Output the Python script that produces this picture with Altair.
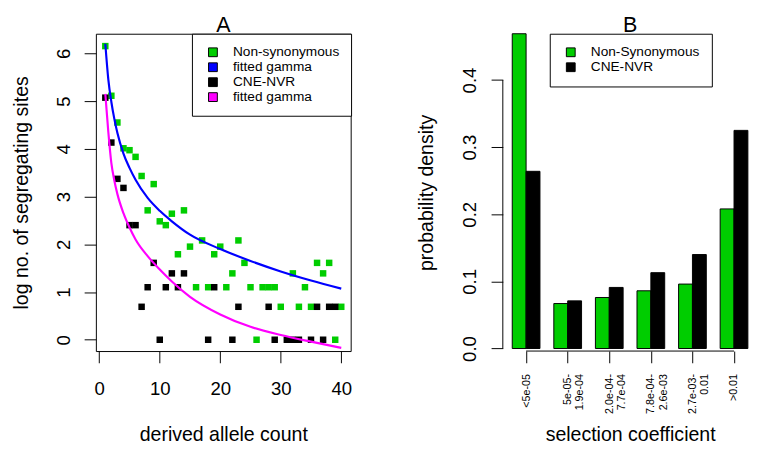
import altair as alt
import pandas as pd

FONT = "Liberation Sans"
GREEN = "#00CD00"
BLUE = "#0000FF"
MAGENTA = "#FF00FF"
BLACK = "#000000"

# ---------------- Panel A data ----------------
ns_count = [1, 2, 3, 4, 5, 6, 7, 8, 9, 10, 11, 12, 13, 14, 15, 16, 17, 18, 19, 20,
            21, 22, 23, 24, 25, 26, 27, 28, 29, 30, 32, 33, 34, 35, 36, 37, 38, 39, 40]
ns_log_sites = [6.15, 5.11, 4.55, 4.01, 3.97, 3.83, 3.43, 2.71, 3.26, 2.48,
                2.40, 2.64, 1.79, 2.71, 1.95, 1.10, 2.08, 1.10, 1.79, 1.95,
                1.10, 1.39, 2.08, 1.61, 1.10, 0.00, 1.10, 1.10, 1.10, 0.69,
                1.39, 0.69, 1.10, 0.69, 1.61, 1.39, 1.61, 0.00, 0.69]
cne_count = [1, 2, 3, 4, 5, 6, 7, 8, 9, 10, 11, 12, 13, 14, 18, 19, 22, 23, 28, 29,
             31, 32, 33, 35, 36, 37, 38, 39]
cne_log_sites = [5.07, 4.13, 3.37, 3.18, 2.40, 2.40, 0.69, 1.10, 1.61, 0.00,
                 1.10, 1.39, 1.10, 1.39, 0.00, 1.10, 0.00, 0.69, 0.69, 0.00,
                 0.00, 0.00, 0.00, 0.00, 0.69, 0.00, 0.69, 0.69]
fit_count = [1, 1.5, 2, 2.5, 3, 4, 5, 6, 8, 10, 12, 15, 20, 25, 30, 35, 40]
fit_ns = [6.2, 5.45, 4.98, 4.62, 4.33, 3.9, 3.6, 3.35, 2.97, 2.7, 2.48, 2.2,
          1.9, 1.65, 1.43, 1.24, 1.07]
fit_cne = [5.15, 4.35, 3.7, 3.33, 3.05, 2.65, 2.35, 2.1, 1.75, 1.47, 1.22, 0.9,
           0.53, 0.27, 0.1, -0.04, -0.17]

a_keys = ["ns", "fit_ns", "cne", "fit_cne"]
a_labels = ["Non-synonymous", "fitted gamma", "CNE-NVR", "fitted gamma"]
a_colors = [GREEN, BLUE, BLACK, MAGENTA]
a_xticks = [0, 10, 20, 30, 40]
a_yticks = [0, 1, 2, 3, 4, 5, 6]

# ---------------- Panel B data ----------------
b_bins = [["<5e-05"], ["5e-05-", "1.9e-04"], ["2.0e-04-", "7.7e-04"],
          ["7.8e-04-", "2.6e-03"], ["2.7e-03-", "0.01"], [">0.01"]]
b_ns = [0.469, 0.067, 0.076, 0.086, 0.096, 0.208]
b_cne = [0.264, 0.071, 0.091, 0.113, 0.140, 0.325]
b_keys = ["b_ns", "b_cne"]
b_labels = ["Non-Synonymous", "CNE-NVR"]
b_colors = [GREEN, BLACK]
b_yticks = [0.0, 0.1, 0.2, 0.3, 0.4]

# ---------------- tables ----------------
pts = pd.concat([
    pd.DataFrame({"x": ns_count, "y": ns_log_sites, "series": "ns"}),
    pd.DataFrame({"x": cne_count, "y": cne_log_sites, "series": "cne"}),
])
fits = pd.concat([
    pd.DataFrame({"x": fit_count, "y": fit_ns, "series": "fit_ns"}),
    pd.DataFrame({"x": fit_count, "y": fit_cne, "series": "fit_cne"}),
])

rows = []
for i in range(len(b_bins)):
    # barplot(beside=TRUE): each group = 1 unit gap + 2 bars of width 1
    rows.append({"x0": 3 * i + 1, "x1": 3 * i + 2, "d": b_ns[i], "base": 0.0, "grp": b_keys[0]})
    rows.append({"x0": 3 * i + 2, "x1": 3 * i + 3, "d": b_cne[i], "base": 0.0, "grp": b_keys[1]})
bars = pd.DataFrame(rows)
b_centers = [3 * i + 2 for i in range(len(b_bins))]

PW_A, PW_B, PH = 261, 253, 325
TICK = 12
LABEL_FS = 19
TITLE_FS = 20


def idx_expr(keys, labels):
    lab = "[" + ",".join("'" + l + "'" for l in labels) + "]"
    ks = "[" + ",".join("'" + k + "'" for k in keys) + "]"
    return lab + "[indexof(" + ks + ", datum.value)]"


def legend(keys, labels, x):
    return alt.Legend(
        title=None, orient="none", legendX=x, legendY=0, direction="vertical",
        symbolType="square", symbolSize=81, symbolStrokeColor="black",
        symbolStrokeWidth=1, symbolOpacity=1, symbolOffset=2.5,
        labelFont=FONT, labelFontSize=14, labelColor="black", labelOffset=13.5,
        labelExpr=idx_expr(keys, labels), padding=12, rowPadding=1.3,
        strokeColor="black", fillColor="white", cornerRadius=0,
    )


def panel_title(text, cx):
    # panel letter drawn as a text mark just above the plot area
    return alt.Chart(pd.DataFrame({"t": [text]})).mark_text(
        font=FONT, fontSize=22, baseline="alphabetic", align="center", color="black"
    ).encode(text="t:N", x=alt.value(cx), y=alt.value(-2))


# ---------------- Panel A ----------------
xs_a = alt.Scale(domain=[-0.56, 41.56], nice=False, zero=False)
ys_a = alt.Scale(domain=[-0.237, 6.409], nice=False, zero=False)
cs_a = alt.Scale(domain=a_keys, range=a_colors)

ax_xa = alt.Axis(values=a_xticks, title="derived allele count", domain=False,
                 tickSize=TICK, labelPadding=17, labelFontSize=LABEL_FS,
                 titleFontSize=TITLE_FS, titleY=92, titleBaseline="alphabetic",
                 grid=False)
ax_ya = alt.Axis(values=a_yticks, title="log no. of segregating sites", domain=False,
                 tickSize=TICK, labelAngle=-90, labelAlign="center",
                 labelBaseline="alphabetic", labelPadding=15.5,
                 labelFontSize=LABEL_FS, titleFontSize=TITLE_FS,
                 titleX=-76.3, titleY=PH / 2, titleBaseline="middle", grid=False)

points_a = alt.Chart(pts).mark_square(size=44, opacity=1, filled=True).encode(
    x=alt.X("x:Q", scale=xs_a, axis=ax_xa),
    y=alt.Y("y:Q", scale=ys_a, axis=ax_ya),
    color=alt.Color("series:N", scale=cs_a, legend=legend(a_keys, a_labels, 98.4)),
)
lines_a = alt.Chart(fits).mark_line(strokeWidth=2.2, interpolate="monotone").encode(
    x=alt.X("x:Q", scale=xs_a),
    y=alt.Y("y:Q", scale=ys_a),
    color=alt.Color("series:N", scale=cs_a, legend=None),
)
panel_a = alt.layer(points_a, lines_a, panel_title("A", PW_A / 2)).resolve_legend(
    color="independent"
).properties(
    width=PW_A, height=PH,
    view=alt.ViewBackground(stroke="black", strokeWidth=1),
)

# ---------------- Panel B ----------------
xs_b = alt.Scale(domain=[0.32, 18.14], nice=False, zero=False)
ys_b = alt.Scale(domain=[-0.0038, 0.469], nice=False, zero=False)
cs_b = alt.Scale(domain=b_keys, range=b_colors)

bin_lit = "[" + ",".join("[" + ",".join("'" + s + "'" for s in b) + "]" for b in b_bins) + "]"
ax_xb = alt.Axis(values=b_centers, title="selection coefficient", domain=False,
                 tickSize=TICK, labelAngle=-90, labelAlign="right", labelBaseline="middle",
                 labelPadding=11, labelFontSize=11, labelLineHeight=12.7,
                 labelExpr=bin_lit + "[round((datum.value - 2) / 3)]",
                 labelOverlap=False, titleFontSize=TITLE_FS, titleX=130.4, titleY=92,
                 titleBaseline="alphabetic", grid=False)
ax_yb = alt.Axis(values=b_yticks, format=".1f", title="probability density", domain=False,
                 tickSize=TICK, labelAngle=-90, labelAlign="center",
                 labelBaseline="alphabetic", labelPadding=15.8,
                 labelFontSize=LABEL_FS, titleFontSize=TITLE_FS,
                 titleX=-78.1, titleY=PH / 2, titleBaseline="middle", grid=False)

bars_b = alt.Chart(bars).mark_bar(stroke="black", strokeWidth=1, opacity=1).encode(
    x=alt.X("x0:Q", scale=xs_b, axis=ax_xb),
    x2="x1:Q",
    y=alt.Y("d:Q", scale=ys_b, axis=ax_yb),
    y2="base:Q",
    fill=alt.Fill("grp:N", scale=cs_b, legend=legend(b_keys, b_labels, 48.1)),
)
one = pd.DataFrame({"k": [0]})
yline_b = alt.Chart(one).mark_rule(color="black", strokeWidth=1).encode(
    x=alt.value(0), y=alt.datum(b_yticks[0]), y2=alt.datum(b_yticks[-1]))
xline_b = alt.Chart(one).mark_rule(color="black", strokeWidth=1).encode(
    y=alt.value(PH), x=alt.datum(b_centers[0]), x2=alt.datum(b_centers[-1]))

panel_b = alt.layer(bars_b, yline_b, xline_b, panel_title("B", 130.4)).properties(
    width=PW_B, height=PH,
    view=alt.ViewBackground(stroke="transparent"),
)

chart = alt.hconcat(panel_a, panel_b, spacing=155.8, bounds="flush").resolve_scale(
    color="independent", fill="independent"
).resolve_legend(color="independent", fill="independent").properties(
    padding={"left": 3, "top": 0, "right": 0, "bottom": 0}
).configure(font=FONT).configure_axis(
    labelFont=FONT, titleFont=FONT, labelColor="black", titleColor="black",
    tickColor="black", tickWidth=1, titleFontWeight="normal", labelBound=False,
    labelFlush=False,
)

chart.save("out.html", embed_options={"renderer": "svg", "actions": False})
